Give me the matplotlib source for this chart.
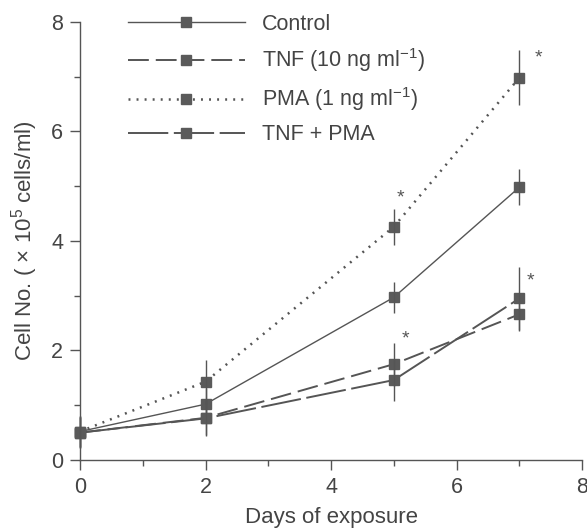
import matplotlib.pyplot as plt
from matplotlib.ticker import MultipleLocator

# Data
days = [0, 2, 5, 7]
control = [0.52, 1.02, 2.97, 4.98]
tnf = [0.50, 0.77, 1.75, 2.66]
pma = [0.52, 1.43, 4.26, 6.98]
tnf_pma = [0.50, 0.76, 1.46, 2.95]

control_err = [0.28, 0.30, 0.28, 0.33]
tnf_err = [0.28, 0.32, 0.39, 0.30]
pma_err = [0.28, 0.40, 0.33, 0.50]
tnf_pma_err = [0.28, 0.32, 0.39, 0.57]

labels = ["Control", "TNF (10 ng ml$^{-1}$)", "PMA (1 ng ml$^{-1}$)", "TNF + PMA"]

# Significant points (series index, day index, offset of the asterisk in points)
stars = [(2, 2, (4.8, 20.5)), (1, 2, (8.5, 18)), (2, 3, (13.8, 14.2)), (3, 3, (7.8, 12.5))]

plt.rcParams['font.family'] = ['Liberation Sans', 'DejaVu Sans']
plt.rcParams['mathtext.fontset'] = 'custom'
plt.rcParams['mathtext.rm'] = 'Liberation Sans'
plt.rcParams['mathtext.it'] = 'Liberation Sans:italic'
plt.rcParams['lines.scale_dashes'] = False

grey = '#555555'
txt = '#444444'
fig = plt.figure(figsize=(5.87, 5.31), dpi=100)
ax = fig.add_axes([0.1363, 0.1337, 0.8552, 0.8249])

series = [control, tnf, pma, tnf_pma]
errors = [control_err, tnf_err, pma_err, tnf_pma_err]
dashes = [None, (15, 5), (1.4, 4.4), (29, 4)]
widths = [1.0, 1.4, 1.8, 1.4]

for vals, err, dash, lw, lab in zip(series, errors, dashes, widths, labels):
    line, = ax.plot(days, vals, color=grey, lw=lw, marker='s', ms=7.5,
                    mfc='#5a5a5a', mec='#5a5a5a', label=lab, clip_on=False)
    if dash is not None:
        line.set_dashes(dash)
    ax.errorbar(days, vals, yerr=err, fmt='none', ecolor=grey, elinewidth=1.0,
                capsize=0, clip_on=False)

for si, di, off in stars:
    ax.annotate('*', (days[di], series[si][di]), xytext=off, textcoords='offset points',
                ha='center', va='center', fontsize=14, color=grey)

ax.set_xlim(0, 8)
ax.set_ylim(0, 8)
ax.xaxis.set_major_locator(MultipleLocator(2))
ax.xaxis.set_minor_locator(MultipleLocator(1))
ax.yaxis.set_major_locator(MultipleLocator(2))
ax.yaxis.set_minor_locator(MultipleLocator(1))
ax.tick_params(which='major', length=7, width=1.0, color=grey, labelsize=15.5,
               labelcolor=txt, pad=5)
ax.tick_params(which='minor', length=4, width=1.0, color=grey)
for side in ['top', 'right']:
    ax.spines[side].set_visible(False)
for side in ['left', 'bottom']:
    ax.spines[side].set_color(grey)
    ax.spines[side].set_linewidth(1.0)

ax.set_xlabel('Days of exposure', fontsize=16, color=txt, labelpad=7)
ax.set_ylabel('Cell No. ( × 10$^5$ cells/ml)', fontsize=16, color=txt, labelpad=8)

leg = ax.legend(loc='upper left', bbox_to_anchor=(128 / 587, 1 - 14 / 531),
                bbox_transform=fig.transFigure, frameon=False, fontsize=15.5,
                handlelength=5.43, handletextpad=0.8, labelspacing=0.52,
                borderpad=0, borderaxespad=0, numpoints=1)
for t in leg.get_texts():
    t.set_color(txt)

fig.savefig('out.png', dpi=100, facecolor='white')
